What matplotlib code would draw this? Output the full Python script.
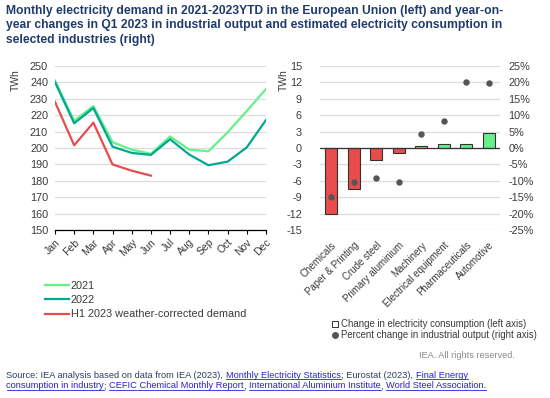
import matplotlib
matplotlib.use('Agg')
import matplotlib.pyplot as plt
from matplotlib.lines import Line2D
import numpy

plt.rcParams['font.family'] = ['Liberation Sans', 'DejaVu Sans']
plt.rcParams['axes.unicode_minus'] = False

# left panel: monthly EU electricity demand (TWh)
months = ['Jan', 'Feb', 'Mar', 'Apr', 'May', 'Jun',
          'Jul', 'Aug', 'Sep', 'Oct', 'Nov', 'Dec']
demand_2021 = [241, 216.5, 225.5, 203.5, 199, 196.5,
               207, 199, 198, 209.5, 222.5, 235.8]
demand_2022 = [240, 215, 224.3, 200.8, 197, 195.8,
               205.3, 196, 189.5, 191.7, 200.4, 217]
demand_2023 = [228, 201.6, 215.4, 190, 186.2, 183.2]

# right panel: Q1 2023 year-on-year changes
industries = ['Chemicals', 'Paper & Printing', 'Crude steel',
              'Primary aluminium', 'Machinery', 'Electrical equipment',
              'Pharmaceuticals', 'Automotive']
elec_change = [-12, -7.5, -2.25, -1.0, 0.3, 0.65, 0.7, 2.7]
output_change = [-14.8, -10.3, -9.2, -10.2, 4.3, 8.1, 19.9, 19.7]

C_2021 = '#66f08c'
C_2022 = '#00a88e'
C_2023 = '#e84c4c'
GRID = '#dcdcdc'
TITLE = '#1f3b6e'
TXT = '#3a3a3a'

fig = plt.figure(figsize=(5.5, 3.98), dpi=100)

fig.text(0.011, 0.988,
         'Monthly electricity demand in 2021-2023YTD in the European Union (left) and year-on-\n'
         'year changes in Q1 2023 in industrial output and estimated electricity consumption in\n'
         'selected industries (right)',
         ha='left', va='top', fontsize=8.7, fontweight='bold', color=TITLE,
         linespacing=1.3)

# ---- left chart
ax1 = fig.add_axes([0.1, 0.4214, 0.3836, 0.4136])
x = numpy.arange(len(months))
ax1.plot(x, demand_2021, color=C_2021, lw=1.6, label='2021')
ax1.plot(x, demand_2022, color=C_2022, lw=1.6, label='2022')
ax1.plot(x[:len(demand_2023)], demand_2023, color=C_2023, lw=1.6,
         label='H1 2023 weather-corrected demand')
ax1.set_xlim(0, 11)
ax1.set_ylim(150, 250)
ax1.set_yticks(numpy.arange(150, 251, 10))
ax1.set_xticks(x)
ax1.set_xticklabels(months, rotation=45, ha='right', rotation_mode='anchor')
ax1.grid(axis='y', color=GRID, lw=0.9)
ax1.set_axisbelow(True)
for s in ['top', 'right', 'left']:
    ax1.spines[s].set_visible(False)
ax1.spines['bottom'].set_color('black')
ax1.spines['bottom'].set_linewidth(0.9)
ax1.tick_params(axis='y', length=0, pad=5, labelsize=7.8, labelcolor=TXT)
ax1.tick_params(axis='x', length=3, width=0.8, pad=2, labelsize=7.5,
                labelcolor=TXT)
ax1.set_ylabel('TWh', fontsize=7.5, color=TXT)
ax1.yaxis.set_label_coords(-0.16, 0.915)
ax1.legend(loc='upper left', bbox_to_anchor=(-0.07, -0.28), frameon=False,
           fontsize=7.8, handlelength=2.3, handletextpad=0.1,
           labelspacing=0.4, borderaxespad=0, labelcolor=TXT)

# ---- right chart
ax2 = fig.add_axes([0.5818, 0.4214, 0.3273, 0.4136])
xb = numpy.arange(len(industries))
bar_colors = [C_2023 if v < 0 else C_2021 for v in elec_change]
ax2.bar(xb, elec_change, width=0.55, color=bar_colors, edgecolor='#333333',
        linewidth=0.8, zorder=2)
ax2.axhline(0, color='#333333', lw=0.9, zorder=3)
ax2.set_xlim(-0.5, 7.5)
ax2.set_ylim(-15, 15)
ax2.set_yticks(numpy.arange(-15, 16, 3))
ax2.set_xticks(xb)
ax2.set_xticklabels(industries, rotation=45, ha='right',
                    rotation_mode='anchor')
ax2.grid(axis='y', color=GRID, lw=0.9)
ax2.set_axisbelow(True)
for s in ['top', 'right', 'left', 'bottom']:
    ax2.spines[s].set_visible(False)
ax2.tick_params(axis='y', length=0, pad=13, labelsize=7.8, labelcolor=TXT)
ax2.tick_params(axis='x', length=0, pad=7, labelsize=7, labelcolor=TXT)
ax2.set_ylabel('TWh', fontsize=7.5, color=TXT)
ax2.yaxis.set_label_coords(-0.175, 0.915)

ax3 = ax2.twinx()
ax3.scatter(xb, output_change, s=13, color='#555555', zorder=4)
ax3.set_ylim(-25, 25)
ax3.set_yticks(numpy.arange(-25, 26, 5))
ax3.set_yticklabels(['%d%%' % v for v in numpy.arange(-25, 26, 5)])
for s in ['top', 'right', 'left', 'bottom']:
    ax3.spines[s].set_visible(False)
ax3.tick_params(axis='y', length=0, pad=6, labelsize=7.8, labelcolor=TXT)

handles = [
    Line2D([], [], ls='', marker='s', markersize=5, markerfacecolor='white',
           markeredgecolor='#333333', markeredgewidth=0.7),
    Line2D([], [], ls='', marker='o', markersize=4, markerfacecolor='#555555',
           markeredgecolor='#555555'),
]
fig.legend(handles, ['Change in electricity consumption (left axis)',
                     'Percent change in industrial output (right axis)'],
           loc='upper left', bbox_to_anchor=(0.595, 0.207), frameon=False,
           fontsize=6.9, handlelength=0.8, handletextpad=0.25,
           labelspacing=0.05, borderaxespad=0, labelcolor=TXT)

fig.text(0.937, 0.106, 'IEA. All rights reserved.', ha='right', va='center',
         fontsize=6.6, color='#8a8a8a')

# ---- source line with link-styled segments
DARK = '#2b3f6b'
LINK = '#2323d8'
source_lines = [
    [('Source: IEA analysis based on data from IEA (2023), ', False),
     ('Monthly Electricity Statistics', True),
     ('; Eurostat (2023), ', False),
     ('Final Energy', True)],
    [('consumption in industry', True), ('; ', False),
     ('CEFIC Chemical Monthly Report', True), (', ', False),
     ('International Aluminium Institute', True), (', ', False),
     ('World Steel Association.', True)],
]
renderer = fig.canvas.get_renderer()
y_px = [398 - 375, 398 - 386]
for line, ypix in zip(source_lines, y_px):
    xpix = 6.5
    for seg, is_link in line:
        t = fig.text(xpix / 550, ypix / 398, seg, ha='left', va='center',
                     fontsize=6.65, color=LINK if is_link else DARK)
        bb = t.get_window_extent(renderer)
        if is_link:
            fig.add_artist(Line2D([bb.x0 / 550, bb.x1 / 550],
                                  [(bb.y0 + 0.5) / 398, (bb.y0 + 0.5) / 398],
                                  color=LINK, lw=0.6,
                                  transform=fig.transFigure))
        xpix = bb.x1

fig.savefig('out.png', dpi=100)
